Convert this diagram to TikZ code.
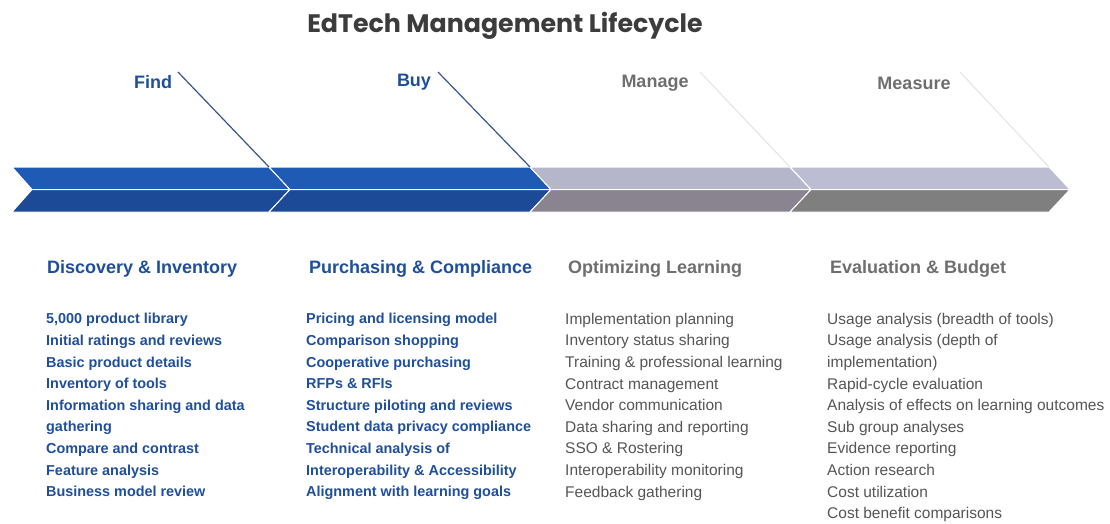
\documentclass[tikz,border=0pt]{standalone}
\usepackage{fontspec}
\setmainfont{Liberation Sans}
\newfontfamily\titlefont{Poppins}
\definecolor{bluetop}{HTML}{1F5AB4}
\definecolor{bluebot}{HTML}{1D4A97}
\definecolor{mantop}{HTML}{B6B6CA}
\definecolor{manbot}{HTML}{8A8491}
\definecolor{meatop}{HTML}{BCBDD2}
\definecolor{meabot}{HTML}{7F7F7F}
\definecolor{bluetext}{HTML}{1F4E9A}
\definecolor{graytext}{HTML}{6E6E6E}
\definecolor{listgray}{HTML}{555555}
\definecolor{titlegray}{HTML}{3C3C3C}
\definecolor{lineblue}{HTML}{34568A}
\definecolor{faint}{HTML}{E6E6E6}
\tikzset{
  seg/.style={draw=white, line width=1pt, line join=miter},
  phase/.style={font=\fontsize{18}{20}\selectfont\bfseries, inner sep=0},
  head/.style={font=\fontsize{18}{20}\selectfont\bfseries, inner sep=0, anchor=base west},
  items/.style={font=\fontsize{15.5}{21.6}\selectfont, inner sep=0, anchor=north west, align=left},
  blueitems/.style={items, font=\fontsize{14.4}{21.6}\selectfont\bfseries},
  pointer/.style={line width=1.2pt},
}
\begin{document}
\begin{tikzpicture}[x=1pt,y=-1pt]
\useasboundingbox (0,0) rectangle (1110,523);
% title
\node[font=\titlefont\fontsize{25.3}{28}\selectfont\bfseries, text=titlegray, inner sep=0, anchor=base] (title) at (505,32) {EdTech Management Lifecycle};
% chevron bar
\def\yt{167}\def\ym{189.5}\def\yb{212}
% Find
\fill[bluetop,seg] (12,\yt) -- (269,\yt) -- (290,\ym) -- (32,\ym) -- cycle;
\fill[bluebot,seg] (32,\ym) -- (290,\ym) -- (269,\yb) -- (12,\yb) -- cycle;
% Buy
\fill[bluetop,seg] (269,\yt) -- (530,\yt) -- (551,\ym) -- (290,\ym) -- cycle;
\fill[bluebot,seg] (290,\ym) -- (551,\ym) -- (530,\yb) -- (269,\yb) -- cycle;
% Manage
\fill[mantop,seg] (530,\yt) -- (790,\yt) -- (811,\ym) -- (551,\ym) -- cycle;
\fill[manbot,seg] (551,\ym) -- (811,\ym) -- (790,\yb) -- (530,\yb) -- cycle;
% Measure
\fill[meatop,seg] (790,\yt) -- (1049,\yt) -- (1070,\ym) -- (811,\ym) -- cycle;
\fill[meabot,seg] (811,\ym) -- (1070,\ym) -- (1049,\yb) -- (790,\yb) -- cycle;
% phase labels
\node[phase, text=bluetext] (find) at (153,82) {Find};
\node[phase, text=bluetext] (buy) at (414,82) {Buy};
\node[phase, text=graytext] (manage) at (655,83) {Manage};
\node[phase, text=graytext] (measure) at (914,83) {Measure};
% pointer lines
\coordinate (f0) at (178,72); \coordinate (f1) at (269,\yt);
\coordinate (b0) at (438,72); \coordinate (b1) at (530,\yt);
\coordinate (m0) at (700,72); \coordinate (m1) at (790,\yt);
\coordinate (e0) at (960,72); \coordinate (e1) at (1049,\yt);
\draw[pointer, lineblue] (f0) -- (f1);
\draw[pointer, lineblue] (b0) -- (b1);
\draw[pointer, faint] (m0) -- (m1);
\draw[pointer, faint] (e0) -- (e1);
% headers
\node[head, text=bluetext] (h1) at (47,273) {Discovery \& Inventory};
\node[head, text=bluetext] (h2) at (309,273) {Purchasing \& Compliance};
\node[head, text=graytext] (h3) at (568,273) {Optimizing Learning};
\node[head, text=graytext] (h4) at (830,273) {Evaluation \& Budget};
% lists
\node[blueitems, text=bluetext] (l1) at (46,313.3) {5,000 product library\\Initial ratings and reviews\\Basic product details\\Inventory of tools\\Information sharing and data\\gathering\\Compare and contrast\\Feature analysis\\Business model review};
\node[blueitems, text=bluetext] (l2) at (306,313.3) {Pricing and licensing model\\Comparison shopping\\Cooperative purchasing\\RFPs \& RFIs\\Structure piloting and reviews\\Student data privacy compliance\\Technical analysis of\\Interoperability \& Accessibility\\Alignment with learning goals};
\node[items, text=listgray] (l3) at (565,312.8) {Implementation planning\\Inventory status sharing\\Training \& professional learning\\Contract management\\Vendor communication\\Data sharing and reporting\\SSO \& Rostering\\Interoperability monitoring\\Feedback gathering};
\node[items, text=listgray] (l4) at (827,312.8) {Usage analysis (breadth of tools)\\Usage analysis (depth of\\implementation)\\Rapid-cycle evaluation\\Analysis of effects on learning outcomes\\Sub group analyses\\Evidence reporting\\Action research\\Cost utilization\\Cost benefit comparisons};
\end{tikzpicture}
\end{document}
